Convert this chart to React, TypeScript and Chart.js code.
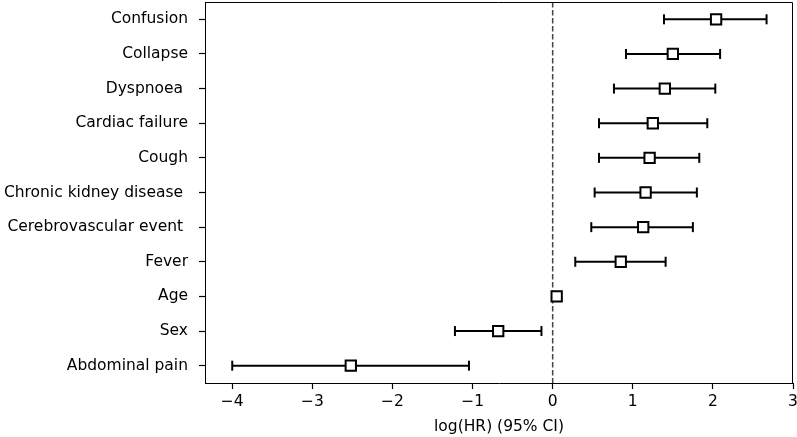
import React, { useEffect, useRef } from 'react';
import { Chart, registerables } from 'chart.js';

Chart.register(...registerables);

const labels = [
  'Confusion',
  'Collapse',
  'Dyspnoea ',
  'Cardiac failure',
  'Cough',
  'Chronic kidney disease ',
  'Cerebrovascular event ',
  'Fever',
  'Age',
  'Sex',
  'Abdominal pain',
];
const estimates = [2.04, 1.5, 1.4, 1.25, 1.21, 1.16, 1.13, 0.85, 0.05, -0.68, -2.52];
const lower = [1.39, 0.915, 0.765, 0.578, 0.578, 0.524, 0.482, 0.282, 0.03, -1.22, -4.0];
const upper = [2.67, 2.09, 2.03, 1.93, 1.83, 1.8, 1.75, 1.41, 0.07, -0.14, -1.045];
const xTicks = [-4, -3, -2, -1, 0, 1, 2, 3];
const xTitle = 'log(HR) (95% CI)';

const FONT = 'DejaVu Sans';

const framePlugin = {
  id: 'frame',
  afterDatasetsDraw(chart: any) {
    const { ctx, chartArea } = chart;
    ctx.save();
    ctx.strokeStyle = '#000';
    ctx.lineWidth = 1;
    ctx.beginPath();
    ctx.moveTo(chartArea.left, chartArea.top + 0.5);
    ctx.lineTo(chartArea.right - 0.5, chartArea.top + 0.5);
    ctx.lineTo(chartArea.right - 0.5, chartArea.bottom);
    ctx.stroke();
    ctx.restore();
  },
};

export default function App() {
  const ref = useRef<HTMLCanvasElement | null>(null);

  useEffect(() => {
    if (!ref.current) return;
    const ciLines = labels.map((_, i) => ({
      data: [
        { x: lower[i], y: i },
        { x: upper[i], y: i },
      ],
      showLine: true,
      borderColor: '#000',
      borderWidth: 2,
      pointRadius: 0,
      order: 2,
    }));
    const caps = {
      data: labels.flatMap((_, i) => [
        { x: lower[i], y: i },
        { x: upper[i], y: i },
      ]),
      showLine: false,
      pointStyle: 'line',
      rotation: 90,
      pointRadius: 5,
      pointBorderWidth: 2,
      pointBorderColor: '#000',
      pointBackgroundColor: '#000',
      order: 1,
    };
    const points = {
      data: estimates.map((v, i) => ({ x: v, y: i })),
      showLine: false,
      pointStyle: 'rect',
      pointRadius: 7.3,
      pointBorderWidth: 2,
      pointBorderColor: '#000',
      pointBackgroundColor: '#fff',
      order: 0,
    };
    const zero = {
      data: [
        { x: 0, y: -0.5 },
        { x: 0, y: 10.5 },
      ],
      showLine: true,
      borderColor: '#444',
      borderWidth: 1.5,
      borderDash: [5.5, 2.5],
      pointRadius: 0,
      order: 3,
    };

    const chart = new Chart(ref.current, {
      type: 'scatter',
      data: { datasets: [zero, ...ciLines, caps, points] as any },
      plugins: [framePlugin],
      options: {
        responsive: false,
        animation: false,
        events: [],
        layout: { autoPadding: false, padding: { top: 2, right: 4, left: 0, bottom: 0 } },
        plugins: { legend: { display: false }, tooltip: { enabled: false } },
        scales: {
          x: {
            type: 'linear',
            min: -4.34,
            max: 3.0,
            afterBuildTicks: (s: any) => {
              s.ticks = xTicks.map((v) => ({ value: v }));
            },
            afterFit: (s: any) => {
              s.height = 54;
              s.paddingLeft = 0;
              s.paddingRight = 0;
            },
            ticks: {
              callback: (v: any) => (v < 0 ? '\u2212' + Math.abs(v) : String(v)),
              color: '#000',
              font: { family: FONT, size: 15.5 },
              padding: 4,
              maxRotation: 0,
              autoSkip: false,
            },
            grid: {
              drawOnChartArea: false,
              drawTicks: true,
              tickLength: 6,
              tickWidth: 1.2,
              tickColor: '#000',
            },
            border: { display: true, color: '#000', width: 1 },
            title: {
              display: true,
              text: xTitle,
              color: '#000',
              font: { family: FONT, size: 15.5 },
              padding: { top: 0, bottom: 1 },
            },
          },
          y: {
            type: 'linear',
            min: -0.5,
            max: 10.5,
            reverse: true,
            afterBuildTicks: (s: any) => {
              s.ticks = labels.map((_, i) => ({ value: i }));
            },
            afterFit: (s: any) => {
              s.width = 205;
              s.paddingTop = 0;
              s.paddingBottom = 0;
            },
            ticks: {
              callback: (v: any) => labels[v as number],
              color: '#000',
              font: { family: FONT, size: 15.5 },
              padding: 11,
              autoSkip: false,
            },
            grid: {
              drawOnChartArea: false,
              drawTicks: true,
              tickLength: 6,
              tickWidth: 1.2,
              tickColor: '#000',
            },
            border: { display: true, color: '#000', width: 1 },
          },
        },
      } as any,
    });
    return () => chart.destroy();
  }, []);

  return (
    <div style={{ position: 'absolute', left: 0, top: 0, width: 797, height: 437, background: '#fff' }}>
      <canvas ref={ref} width={797} height={437} style={{ display: 'block' }} />
    </div>
  );
}
